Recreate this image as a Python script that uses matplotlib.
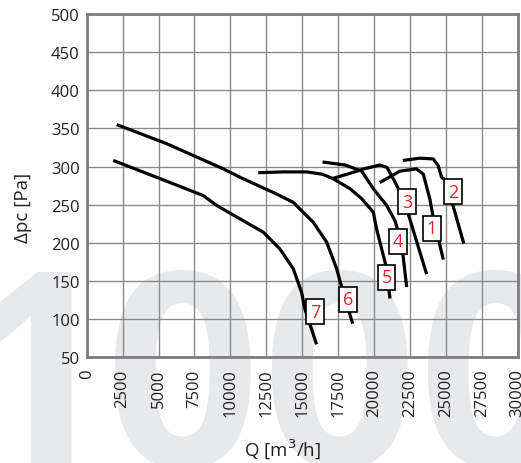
import matplotlib
matplotlib.use("Agg")
import matplotlib.pyplot as plt

plt.rcParams['font.family'] = ['Open Sans', 'DejaVu Sans']

# fan curves, Q [m3/h] vs pressure [Pa]
q1 = [20400, 21800, 22950, 23430, 23890, 24120, 24470, 24820]
p1 = [279, 294, 297, 290, 257, 233, 206, 178]
q2 = [22000, 23200, 24120, 24470, 24700, 25050, 25400, 26250]
p2 = [308, 311, 310, 301, 286, 281, 255, 199]
q3 = [17050, 18300, 19300, 20400, 20900, 21340, 21800, 22380, 23660]
p3 = [284, 291, 297, 302, 299, 284, 267, 238, 159]
q4 = [16420, 18000, 19140, 19950, 20880, 21460, 21920, 22270]
p4 = [306, 302, 294, 271, 249, 229, 200, 142]
q5 = [11940, 13700, 15310, 16400, 17160, 18330, 19140, 19950, 20180, 20530, 20830, 21110]
p5 = [292, 293, 293, 290, 284, 271, 258, 240, 218, 192, 170, 127]
q6 = [2090, 5570, 9510, 10670, 13220, 14380, 15770, 16700, 17400, 17630, 18510]
p6 = [355, 330, 297, 286, 264, 253, 227, 201, 166, 150, 94]
q7 = [1850, 5000, 8110, 9050, 9510, 12290, 13450, 14380, 14960, 15190, 16000]
p7 = [308, 285, 262, 249, 244, 214, 192, 166, 135, 113, 67]

curves = [(q1, p1), (q2, p2), (q3, p3), (q4, p4), (q5, p5), (q6, p6), (q7, p7)]
label_names = ['1', '2', '3', '4', '5', '6', '7']
label_q = [24030, 25510, 22290, 21660, 20880, 18200, 15910]
label_p = [219, 267, 254, 202, 155, 126, 110]

xticks = list(range(0, 30001, 2500))
yticks = list(range(50, 501, 50))

watermark = ['1', '0', '0', '0']

fig = plt.figure(figsize=(5.21, 4.64), dpi=100)

# big grey "1000" behind the chart
wm_x = [0.07, 0.35, 0.65, 0.95]
for ch, xx in zip(watermark, wm_x):
    fig.text(xx, -0.005, ch, fontsize=196, fontweight='bold', color='#e8e9eb',
             ha='center', va='baseline', zorder=-5)

ax = fig.add_axes([0.1664, 0.2278, 0.8273, 0.7399])
ax.patch.set_alpha(0)

for q, p in curves:
    ax.plot(q, p, color='black', lw=2.3, solid_capstyle='butt', zorder=3)

for name, xq, yp in zip(label_names, label_q, label_p):
    ax.text(xq, yp, name, color='#e3242b', fontsize=13, ha='center', va='center',
            zorder=5,
            bbox=dict(boxstyle='square,pad=0.2', fc='white', ec='black', lw=1.2))

ax.set_xlim(0, 30000)
ax.set_ylim(50, 500)
ax.set_xticks(xticks)
ax.set_yticks(yticks)
ax.set_xticklabels([str(t) for t in xticks], rotation=90, va='top')
ax.tick_params(length=0, labelsize=12, colors='#231f20')
ax.tick_params(axis='x', pad=8)
ax.tick_params(axis='y', pad=5)
ax.grid(True, color='#8a8a8c', lw=1)
ax.set_axisbelow(True)
for s in ax.spines.values():
    s.set_color('#7d7d80')
    s.set_linewidth(2)

ax.set_xlabel('Q [m$^3$/h]', fontsize=13.5, color='#231f20')
ax.set_ylabel('Δpc [Pa]', fontsize=13.5, color='#231f20')
ax.xaxis.set_label_coords(0.455, -0.228)
ax.yaxis.set_label_coords(-0.127, 0.438)

fig.savefig('out.png', dpi=100)
